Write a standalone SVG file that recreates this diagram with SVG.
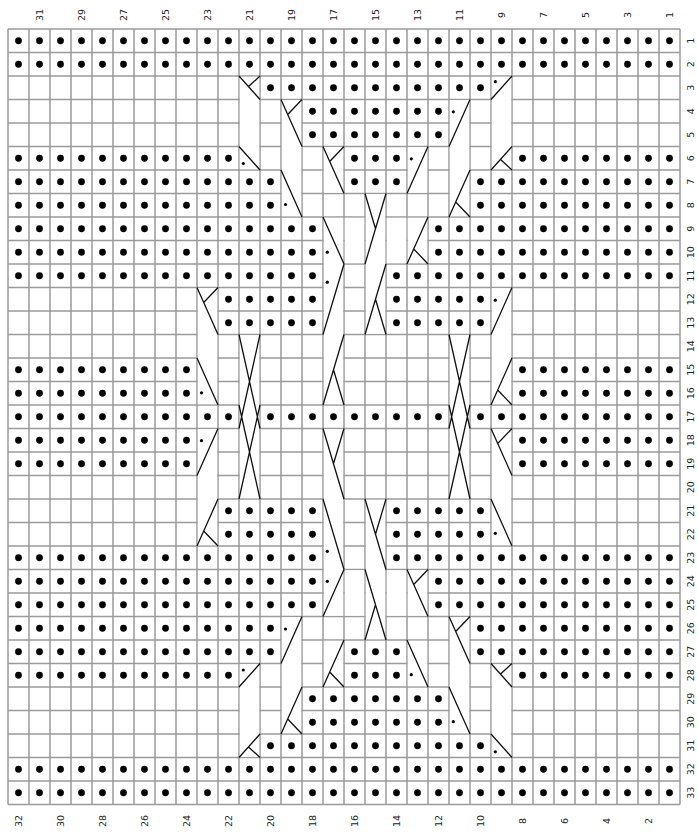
<svg xmlns="http://www.w3.org/2000/svg" xmlns:xlink="http://www.w3.org/1999/xlink" width="698" height="837" viewBox="0 0 698 837">
<style>
.g{fill:none;stroke:#9a9a9a;stroke-width:1.5}
.w{fill:#fff}
.d{fill:none;stroke:#000;stroke-width:6.8;stroke-linecap:round;stroke-dasharray:0 21}
.l{fill:none;stroke:#111;stroke-width:1.3}
.s{fill:#000}
.t{font-family:"DejaVu Sans",sans-serif;font-size:9.5px;fill:#222;text-anchor:middle;dominant-baseline:central}
</style>
<rect width="698" height="837" fill="#fff"/>
<g id="grid">
<path class="g" d="M8 29H680M8 52.5H680M8 76H680M8 99.5H680M8 123H680M8 146.5H680M8 170H680M8 193.5H680M8 217H680M8 240.5H680M8 264H680M8 287.5H680M8 311H680M8 334.5H680M8 358H680M8 381.5H680M8 405H680M8 428.5H680M8 452H680M8 475.5H680M8 499H680M8 522.5H680M8 546H680M8 569.5H680M8 593H680M8 616.5H680M8 640H680M8 663.5H680M8 687H680M8 710.5H680M8 734H680M8 757.5H680M8 781H680M8 804.5H680M8 29V804.5M29 29V804.5M50 29V804.5M71 29V804.5M92 29V804.5M113 29V804.5M134 29V804.5M155 29V804.5M176 29V804.5M197 29V804.5M218 29V804.5M239 29V804.5M260 29V804.5M281 29V804.5M302 29V804.5M323 29V804.5M344 29V804.5M365 29V804.5M386 29V804.5M407 29V804.5M428 29V804.5M449 29V804.5M470 29V804.5M491 29V804.5M512 29V804.5M533 29V804.5M554 29V804.5M575 29V804.5M596 29V804.5M617 29V804.5M638 29V804.5M659 29V804.5M680 29V804.5"/>
</g>
<g id="middle-strips" class="w">
<rect x="239.8" y="335.3" width="19.4" height="162.9"/>
<rect x="449.8" y="335.3" width="19.4" height="162.9"/>
</g>
<g id="top">
<g class="w">
<rect x="239.8" y="76.8" width="19.4" height="92.4"/>
<rect x="491.8" y="76.8" width="19.4" height="92.4"/>
<rect x="281.8" y="100.3" width="19.4" height="115.9"/>
<rect x="449.8" y="100.3" width="19.4" height="115.9"/>
<rect x="323.8" y="147.3" width="19.4" height="45.4"/>
<rect x="407.8" y="147.3" width="19.4" height="45.4"/>
<rect x="323.8" y="217.8" width="19.4" height="186.4"/>
<rect x="344.8" y="217.8" width="19.4" height="45.4"/>
<rect x="365.8" y="194.3" width="19.4" height="139.4"/>
<rect x="386.8" y="217.8" width="19.4" height="45.4"/>
<rect x="407.8" y="217.8" width="19.4" height="45.4"/>
<rect x="197.8" y="288.3" width="19.4" height="115.9"/>
<rect x="491.8" y="288.3" width="19.4" height="115.9"/>
</g>
<path class="l" d="M239 76L260 99.5M248.5 86.6L260 76M512 76L491 99.5M281 99.5L302 146.5M287.7 114.5L302 99.5M470 99.5L449 146.5M239 146.5L260 170M491 170L512 146.5M500.5 159.4L512 170M323 146.5L344 193.5M329.7 161.5L344 146.5M428 146.5L407 193.5M281 170L302 217M470 170L449 217M455.7 202L470 217M386 193.5L365 264M365 193.5L375.5 228.75M323 217L344 264M428 217L407 264M413.7 249L428 264M344 264L323 334.5M386 264L365 334.5M375.5 299.25L386 334.5M197 287.5L218 334.5M203.7 302.5L218 287.5M512 287.5L491 334.5M197 358L218 405M491 405L512 358M497.7 390L512 405M344 334.5L323 405M333.5 369.75L344 405"/>
<g class="s">
<circle cx="495.3" cy="81.7" r="1.6"/>
<circle cx="453.3" cy="111.8" r="1.6"/>
<circle cx="243.3" cy="163.5" r="1.6"/>
<circle cx="411.3" cy="158.8" r="1.6"/>
<circle cx="285.5" cy="204.5" r="1.6"/>
<circle cx="327.3" cy="252.2" r="1.6"/>
<circle cx="327.3" cy="282.2" r="1.6"/>
<circle cx="495.3" cy="300.2" r="1.6"/>
<circle cx="201.5" cy="392.8" r="1.6"/>
</g>
<path class="d" d="M18.5 40.75H670.5M18.5 64.25H670.5M270.5 87.75H481.5M312.5 111.25H439.5M312.5 134.75H439.5M18.5 158.25H229.5M354.5 158.25H397.5M522.5 158.25H670.5M18.5 181.75H271.5M354.5 181.75H397.5M480.5 181.75H670.5M18.5 205.25H271.5M480.5 205.25H670.5M18.5 228.75H313.5M438.5 228.75H670.5M18.5 252.25H313.5M438.5 252.25H670.5M18.5 275.75H313.5M396.5 275.75H670.5M228.5 299.25H313.5M396.5 299.25H481.5M228.5 322.75H313.5M396.5 322.75H481.5M18.5 369.75H187.5M522.5 369.75H670.5M18.5 393.25H187.5M522.5 393.25H670.5"/>
</g>
<use id="bottom" xlink:href="#top" href="#top" transform="matrix(1 0 0 -1 0 833.5)"/>
<g id="middle">
<path class="l" d="M239 334.5L260 428.5M260 334.5L239 428.5M239 405L260 499M260 405L239 499M449 334.5L470 428.5M470 334.5L449 428.5M449 405L470 499M470 405L449 499"/>
<path class="d" d="M18.5 416.75H229.5M270.5 416.75H439.5M480.5 416.75H670.5"/>
</g>
<g id="labels" class="t">
<text x="39.5" y="15" transform="rotate(-90 39.5 15)">31</text>
<text x="81.5" y="15" transform="rotate(-90 81.5 15)">29</text>
<text x="123.5" y="15" transform="rotate(-90 123.5 15)">27</text>
<text x="165.5" y="15" transform="rotate(-90 165.5 15)">25</text>
<text x="207.5" y="15" transform="rotate(-90 207.5 15)">23</text>
<text x="249.5" y="15" transform="rotate(-90 249.5 15)">21</text>
<text x="291.5" y="15" transform="rotate(-90 291.5 15)">19</text>
<text x="333.5" y="15" transform="rotate(-90 333.5 15)">17</text>
<text x="375.5" y="15" transform="rotate(-90 375.5 15)">15</text>
<text x="417.5" y="15" transform="rotate(-90 417.5 15)">13</text>
<text x="459.5" y="15" transform="rotate(-90 459.5 15)">11</text>
<text x="501.5" y="15" transform="rotate(-90 501.5 15)">9</text>
<text x="543.5" y="15" transform="rotate(-90 543.5 15)">7</text>
<text x="585.5" y="15" transform="rotate(-90 585.5 15)">5</text>
<text x="627.5" y="15" transform="rotate(-90 627.5 15)">3</text>
<text x="669.5" y="15" transform="rotate(-90 669.5 15)">1</text>
<text x="18.5" y="821" transform="rotate(-90 18.5 821)">32</text>
<text x="60.5" y="821" transform="rotate(-90 60.5 821)">30</text>
<text x="102.5" y="821" transform="rotate(-90 102.5 821)">28</text>
<text x="144.5" y="821" transform="rotate(-90 144.5 821)">26</text>
<text x="186.5" y="821" transform="rotate(-90 186.5 821)">24</text>
<text x="228.5" y="821" transform="rotate(-90 228.5 821)">22</text>
<text x="270.5" y="821" transform="rotate(-90 270.5 821)">20</text>
<text x="312.5" y="821" transform="rotate(-90 312.5 821)">18</text>
<text x="354.5" y="821" transform="rotate(-90 354.5 821)">16</text>
<text x="396.5" y="821" transform="rotate(-90 396.5 821)">14</text>
<text x="438.5" y="821" transform="rotate(-90 438.5 821)">12</text>
<text x="480.5" y="821" transform="rotate(-90 480.5 821)">10</text>
<text x="522.5" y="821" transform="rotate(-90 522.5 821)">8</text>
<text x="564.5" y="821" transform="rotate(-90 564.5 821)">6</text>
<text x="606.5" y="821" transform="rotate(-90 606.5 821)">4</text>
<text x="648.5" y="821" transform="rotate(-90 648.5 821)">2</text>
<text x="690" y="40.75" transform="rotate(-90 690 40.75)">1</text>
<text x="690" y="64.25" transform="rotate(-90 690 64.25)">2</text>
<text x="690" y="87.75" transform="rotate(-90 690 87.75)">3</text>
<text x="690" y="111.25" transform="rotate(-90 690 111.25)">4</text>
<text x="690" y="134.75" transform="rotate(-90 690 134.75)">5</text>
<text x="690" y="158.25" transform="rotate(-90 690 158.25)">6</text>
<text x="690" y="181.75" transform="rotate(-90 690 181.75)">7</text>
<text x="690" y="205.25" transform="rotate(-90 690 205.25)">8</text>
<text x="690" y="228.75" transform="rotate(-90 690 228.75)">9</text>
<text x="690" y="252.25" transform="rotate(-90 690 252.25)">10</text>
<text x="690" y="275.75" transform="rotate(-90 690 275.75)">11</text>
<text x="690" y="299.25" transform="rotate(-90 690 299.25)">12</text>
<text x="690" y="322.75" transform="rotate(-90 690 322.75)">13</text>
<text x="690" y="346.25" transform="rotate(-90 690 346.25)">14</text>
<text x="690" y="369.75" transform="rotate(-90 690 369.75)">15</text>
<text x="690" y="393.25" transform="rotate(-90 690 393.25)">16</text>
<text x="690" y="416.75" transform="rotate(-90 690 416.75)">17</text>
<text x="690" y="440.25" transform="rotate(-90 690 440.25)">18</text>
<text x="690" y="463.75" transform="rotate(-90 690 463.75)">19</text>
<text x="690" y="487.25" transform="rotate(-90 690 487.25)">20</text>
<text x="690" y="510.75" transform="rotate(-90 690 510.75)">21</text>
<text x="690" y="534.25" transform="rotate(-90 690 534.25)">22</text>
<text x="690" y="557.75" transform="rotate(-90 690 557.75)">23</text>
<text x="690" y="581.25" transform="rotate(-90 690 581.25)">24</text>
<text x="690" y="604.75" transform="rotate(-90 690 604.75)">25</text>
<text x="690" y="628.25" transform="rotate(-90 690 628.25)">26</text>
<text x="690" y="651.75" transform="rotate(-90 690 651.75)">27</text>
<text x="690" y="675.25" transform="rotate(-90 690 675.25)">28</text>
<text x="690" y="698.75" transform="rotate(-90 690 698.75)">29</text>
<text x="690" y="722.25" transform="rotate(-90 690 722.25)">30</text>
<text x="690" y="745.75" transform="rotate(-90 690 745.75)">31</text>
<text x="690" y="769.25" transform="rotate(-90 690 769.25)">32</text>
<text x="690" y="792.75" transform="rotate(-90 690 792.75)">33</text>
</g>
</svg>
